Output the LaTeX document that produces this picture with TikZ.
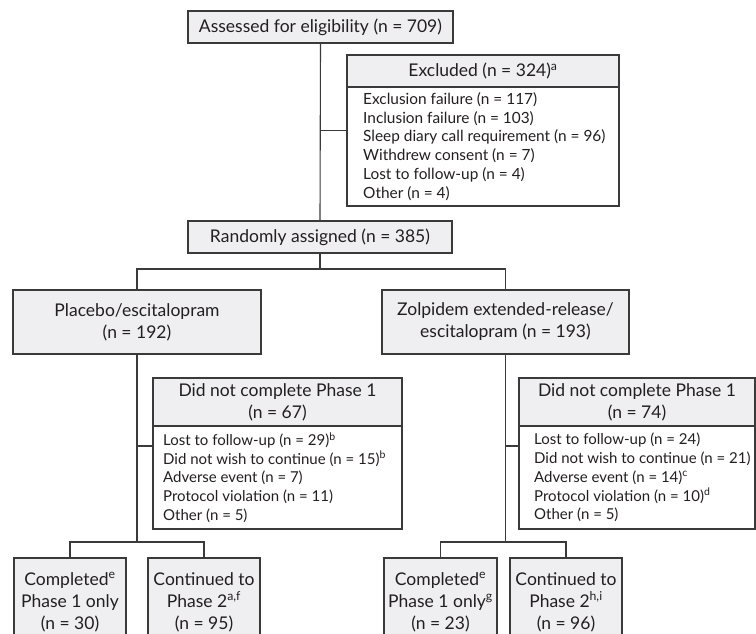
\documentclass[tikz,border=0pt]{standalone}
\usepackage{fontspec}
\setmainfont{Lato}
\usetikzlibrary{calc}
\definecolor{boxg}{HTML}{EFEFF1}
\definecolor{linec}{HTML}{3A3A3A}
\definecolor{txt}{HTML}{231F20}
\newcommand\bigf{\fontsize{17.5}{22}\selectfont}
\newcommand\smallf{\fontsize{15}{18.8}\selectfont}
\newcommand\exclf{\fontsize{15.4}{18.7}\selectfont}
\tikzset{
  base/.style={draw=linec, line width=1.1pt, inner sep=0pt, text=txt, align=center},
  gbox/.style={base, fill=boxg, font=\bigf},
  wbox/.style={base, fill=white},
  bodytext/.style={inner sep=0pt, anchor=west, align=left, text=txt, font=\smallf},
  conn/.style={draw=linec, line width=1.1pt},
}
\begin{document}
\begin{tikzpicture}[x=1pt,y=-1pt]
\useasboundingbox (0,0) rectangle (756,634);
\clip (0,0) rectangle (756,634);
\fill[white] (0,0) rectangle (756,634);

% top
\node[gbox, minimum width=265pt, minimum height=32pt] (assess) at (320.5,27) {Assessed for eligibility (n = 709)};
\node[gbox, minimum width=272pt, minimum height=32pt] (exclh) at (483,71) {Excluded (n = 324)\textsuperscript{a}};
\node[wbox, minimum width=272pt, minimum height=119pt] (exclb) at (483,146.5) {};
\node[bodytext, font=\exclf] (exclt) at (363,146.5) {Exclusion failure (n = 117)\\Inclusion failure (n = 103)\\Sleep diary call requirement (n = 96)\\Withdrew consent (n = 7)\\Lost to follow-up (n = 4)\\Other (n = 4)};
\node[gbox, minimum width=264pt, minimum height=32pt] (random) at (320,237) {Randomly assigned (n = 385)};

% arms
\node[gbox, minimum width=248pt, minimum height=64pt] (placebo) at (137,322) {Placebo/escitalopram\\(n = 192)};
\node[gbox, minimum width=247pt, minimum height=64pt] (zolp) at (505.5,322) {Zolpidem extended-release/\\escitalopram (n = 193)};

% did not complete
\node[gbox, minimum width=249pt, minimum height=48pt] (dnc1h) at (277.5,402) {Did not complete Phase 1\\(n = 67)};
\node[wbox, minimum width=249pt, minimum height=103pt] (dnc1b) at (277.5,477.5) {};
\node[bodytext] (dnc1t) at (163,477.5) {Lost to follow-up (n = 29)\textsuperscript{b}\\Did not wish to continue (n = 15)\textsuperscript{b}\\Adverse event (n = 7)\\Protocol violation (n = 11)\\Other (n = 5)};
\node[gbox, minimum width=236pt, minimum height=48pt] (dnc2h) at (637,402) {Did not complete Phase 1\\(n = 74)};
\node[wbox, minimum width=236pt, minimum height=103pt] (dnc2b) at (637,477.5) {};
\node[bodytext] (dnc2t) at (534,477.5) {Lost to follow-up (n = 24)\\Did not wish to continue (n = 21)\\Adverse event (n = 14)\textsuperscript{c}\\Protocol violation (n = 10)\textsuperscript{d}\\Other (n = 5)};

% bottom
\node[gbox, minimum width=112pt, minimum height=88pt] (comp1) at (70,602) {Completed\textsuperscript{e}\\Phase 1 only\\(n = 30)};
\node[gbox, minimum width=112pt, minimum height=88pt] (cont1) at (204,602) {Continued to\\Phase 2\textsuperscript{a,f}\\(n = 95)};
\node[gbox, minimum width=113pt, minimum height=88pt] (comp2) at (440.5,602) {Completed\textsuperscript{e}\\Phase 1 only\textsuperscript{g}\\(n = 23)};
\node[gbox, minimum width=112pt, minimum height=88pt] (cont2) at (566,602) {Continued to\\Phase 2\textsuperscript{h,i}\\(n = 96)};

% connectors
\coordinate (ex) at ($(exclh.north)!0.5!(exclb.south)$);
\coordinate (rsplit) at (320,269);
\coordinate (lb) at (137,446);
\coordinate (rb) at (505.5,446);
\coordinate (lsplit) at (137,542);
\coordinate (rsplit2) at (505.5,542);

\draw[conn] (assess.south) -- (random.north);
\draw[conn] (assess.south |- ex) -- (exclh.west |- ex);
\draw[conn] (random.south) -- (rsplit);
\draw[conn] (placebo.north) -- (placebo.north |- rsplit) -- (zolp.north |- rsplit) -- (zolp.north);

\draw[conn] (placebo.south) -- (lsplit);
\draw[conn] (lb) -- (dnc1b.west |- lb);
\draw[conn] (comp1.north) -- (comp1.north |- lsplit) -- (cont1.north |- lsplit) -- (cont1.north);

\draw[conn] (zolp.south) -- (rsplit2);
\draw[conn] (rb) -- (dnc2b.west |- rb);
\draw[conn] (comp2.north) -- (comp2.north |- rsplit2) -- (cont2.north |- rsplit2) -- (cont2.north);
\end{tikzpicture}
\end{document}
